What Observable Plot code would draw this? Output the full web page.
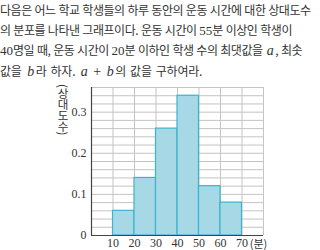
<!DOCTYPE html>
<html>
<head>
<meta charset="utf-8">
<script src="https://cdn.jsdelivr.net/npm/d3@7"></script>
<script src="https://cdn.jsdelivr.net/npm/@observablehq/plot@0.6"></script>
<style>
  html, body { margin: 0; padding: 0; background: #fff; }
  body { width: 320px; height: 250px; overflow: hidden; position: relative; }
  #q { font-family: "Noto Sans CJK KR", sans-serif; font-size: 12px; line-height: 19.5px;
       color: #333; height: 80px; letter-spacing: -0.45px; word-spacing: 0.5px; white-space: nowrap; }
  #q .n { font-family: "Liberation Serif", serif; font-size: 13px; letter-spacing: 0; }
  #q .v { font-family: "Liberation Serif", serif; font-style: italic; font-size: 14px; letter-spacing: 0; margin: 0 1.5px; }
  #q .op { font-family: "Liberation Serif", serif; font-size: 14px; margin: 0 4px; letter-spacing: 0; }
  #q .l4 { letter-spacing: -0.2px; word-spacing: 1.5px; }
  #chart { position: absolute; left: 0; top: 80px; }
  #ytitle { position: absolute; left: 55px; top: 84px; writing-mode: vertical-rl;
            font-family: "Noto Sans CJK KR", sans-serif; font-size: 11.5px; color: #333; letter-spacing: -0.5px; }
</style>
</head>
<body>
<div id="q">다음은 어느 학교 학생들의 하루 동안의 운동 시간에 대한 상대도수<br>의 분포를 나타낸 그래프이다. 운동 시간이 <span class="n">55</span>분 이상인 학생이<br><span class="n">40</span>명일 때, 운동 시간이 <span class="n">20</span>분 이하인 학생 수의 최댓값을 <span class="v">a</span>, 최솟<br><span class="l4">값을 <span class="v">b</span>라 하자. <span class="v">a</span><span class="op">+</span><span class="v">b</span>의 값을 구하여라.</span></div>
<div id="chart"></div>
<div id="ytitle"></div>
<script>
const binStarts = [10, 20, 30, 40, 50, 60];
const binEnds   = [20, 30, 40, 50, 60, 70];
const relFreq   = [0.06, 0.14, 0.26, 0.34, 0.12, 0.08];
const xTicks    = [10, 20, 30, 40, 50, 60, 70];
const yTicks    = [0.1, 0.2, 0.3];
const yGrid     = [0.02,0.04,0.06,0.08,0.10,0.12,0.14,0.16,0.18,0.20,0.22,0.24,0.26,0.28,0.30,0.32,0.34,0.36];
const xGrid     = [10, 20, 30, 40, 50, 60, 70, 80];
const yTitle    = "(상대도수)";
const xUnit     = "(분)";

const bins = binStarts.map((s, i) => ({x1: s, x2: binEnds[i], y: relFreq[i]}));

const serif = "Liberation Serif, serif";
const plot = Plot.plot({
  width: 320, height: 170,
  marginLeft: 91, marginRight: 57, marginTop: 7, marginBottom: 15,
  x: {domain: [0, 80], label: null},
  y: {domain: [0, 0.36], label: null},
  style: {fontFamily: serif, fontSize: "12px", color: "#333", background: "transparent"},
  marks: [
    Plot.ruleY(yGrid, {stroke: "#c4c4c4", strokeWidth: 1, strokeOpacity: 1}),
    Plot.ruleX(xGrid, {stroke: "#c4c4c4", strokeWidth: 1, strokeOpacity: 1}),
    Plot.rectY(bins, {x1: "x1", x2: "x2", y: "y", fill: "#a6d8e6", stroke: "#3db4cf", strokeWidth: 1.2, inset: 0}),
    Plot.ruleX([0], {stroke: "#444", strokeWidth: 1.2}),
    Plot.ruleY([0], {stroke: "#444", strokeWidth: 1.2}),
    Plot.axisY({ticks: yTicks, tickSize: 0, tickPadding: 5, tickFormat: d => d.toFixed(1), label: null, fontFamily: serif, fontSize: 12}),
    Plot.text([0], {x: 0, y: 0, text: d => "0", textAnchor: "end", dx: -5, fontFamily: serif, fontSize: 12}),
    Plot.axisX({ticks: xTicks, tickSize: 0, tickPadding: 3, label: null, fontFamily: serif, fontSize: 12}),
    Plot.text([xUnit], {x: 80, y: 0, text: d => d, dx: -5, dy: 9, fontFamily: "Noto Sans CJK KR, sans-serif", fontSize: 11})
  ]
});
document.getElementById("chart").appendChild(plot);
document.getElementById("ytitle").textContent = yTitle;
</script>
</body>
</html>
